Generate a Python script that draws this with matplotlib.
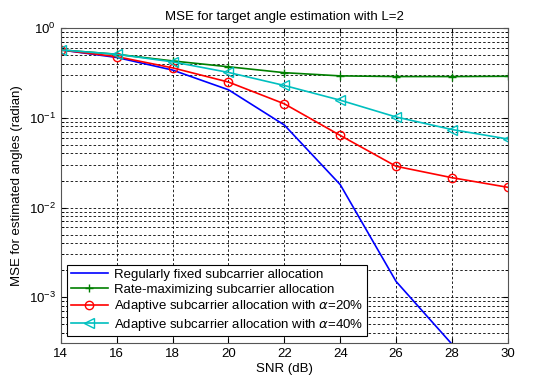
import numpy as np
from matplotlib import pyplot as plt
from matplotlib.ticker import LogLocator, NullFormatter

plt.rcParams["font.family"] = ["Liberation Sans", "DejaVu Sans"]

snr = [14, 16, 18, 20, 22, 24, 26, 28, 30]
mse_fixed = [0.57, 0.47, 0.34, 0.205, 0.083, 0.018, 0.0015, 0.0003, 0.000001]
mse_rate = [0.57, 0.51, 0.43, 0.37, 0.318, 0.293, 0.288, 0.288, 0.29]
mse_a20 = [0.57, 0.48, 0.36, 0.25, 0.143, 0.0636, 0.0288, 0.0215, 0.0168]
mse_a40 = [0.57, 0.51, 0.42, 0.32, 0.229, 0.157, 0.102, 0.074, 0.058]

labels = ["Regularly fixed subcarrier allocation",
          "Rate-maximizing subcarrier allocation",
          r"Adaptive subcarrier allocation with $\alpha$=20%",
          r"Adaptive subcarrier allocation with $\alpha$=40%"]

fs = 9.5

fig = plt.figure(figsize=(5.34, 3.84), dpi=100)
ax = fig.add_axes([0.114, 0.107, 0.837, 0.820])

ax.semilogy(snr, mse_fixed, color="#0000ff", lw=1.2, label=labels[0])
ax.semilogy(snr, mse_rate, color="#007f00", lw=1.2, marker="+", ms=6, mew=1.0, label=labels[1])
ax.semilogy(snr, mse_a20, color="#ff0000", lw=1.2, marker="o", ms=6, mfc="none", mew=1.0, label=labels[2])
ax.semilogy(snr, mse_a40, color="#00bfbf", lw=1.2, marker="<", ms=7, mfc="none", mew=1.0, label=labels[3])

ax.set_xlim(14, 30)
ax.set_ylim(3.1e-4, 1)
ax.set_xticks(np.arange(14, 31, 2))
ax.yaxis.set_major_locator(LogLocator(base=10, numticks=10))
ax.yaxis.set_minor_locator(LogLocator(base=10, subs=np.arange(2, 10), numticks=10))
ax.yaxis.set_minor_formatter(NullFormatter())

dash = (0, (3, 2.5))
ax.grid(True, which="major", axis="both", color="black", lw=0.6, linestyle=dash)
ax.grid(True, which="minor", axis="y", color="black", lw=0.6, linestyle=dash)
ax.tick_params(which="both", direction="in", top=True, right=True, labelsize=fs)
for s in ax.spines.values():
    s.set_color("#555555")
    s.set_linewidth(0.8)

ax.set_title("MSE for target angle estimation with L=2", fontsize=fs, pad=6)
ax.set_xlabel("SNR (dB)", fontsize=fs, labelpad=2)
ax.set_ylabel("MSE for estimated angles (radian)", fontsize=fs, labelpad=4)

leg = ax.legend(loc="lower left", fontsize=fs, fancybox=False, framealpha=1,
                edgecolor="black", borderaxespad=0.5, handlelength=2.8,
                labelspacing=0.2, borderpad=0.25, handletextpad=0.5)
leg.get_frame().set_linewidth(0.8)

fig.savefig("out.png", dpi=100)
